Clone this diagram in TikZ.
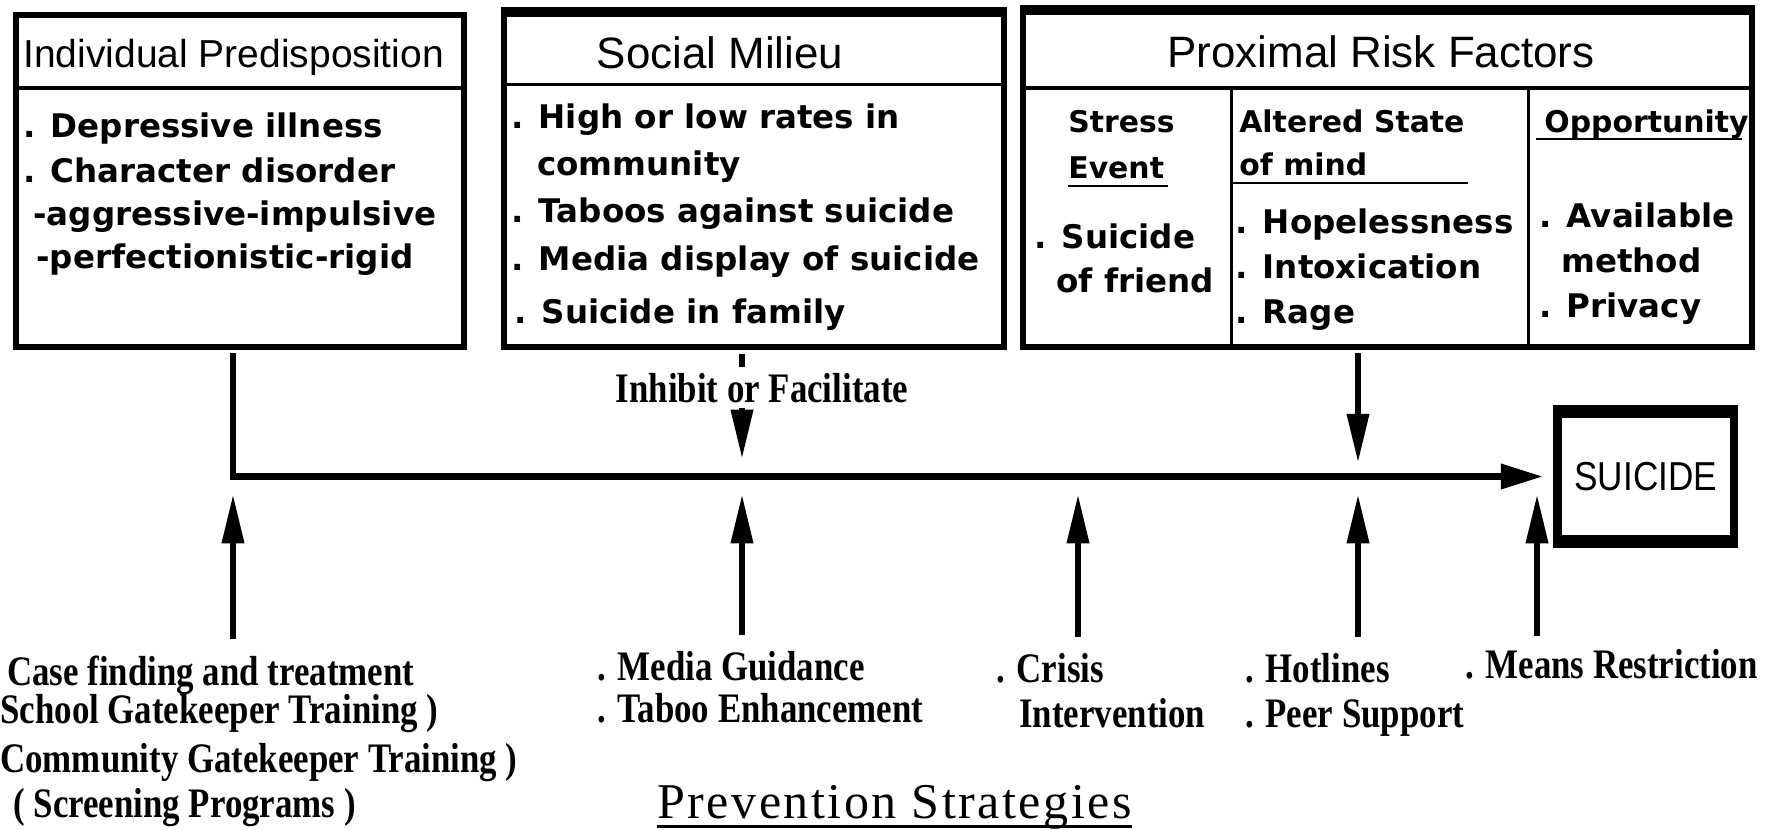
\documentclass[tikz,border=0pt]{standalone}
\usepackage{fontspec}
\setmainfont{DejaVu Sans}
\newfontfamily\headfont{Liberation Sans}
\newfontfamily\suicidefont[FakeStretch=0.87]{Liberation Sans}
\newfontfamily\stratfont[FakeStretch=0.83]{Liberation Serif}
\newfontfamily\prevfont[LetterSpace=5]{Liberation Serif}
\usetikzlibrary{arrows.meta,positioning}

\begin{document}
\begin{tikzpicture}[
  x=0.02cm, y=-0.02cm,
  box/.style={draw, line width=3.4pt, inner sep=0pt},
  rule/.style={line width=2.2pt},
  thinrule/.style={line width=1.7pt},
  flow/.style={line width=3.7pt, line join=miter},
  vert/.style={flow, -{Triangle[length=28pt, width=12pt]}},
  head/.style={font=\headfont\fontsize{25}{30}\selectfont, inner sep=0pt, anchor=base},
  item/.style={font=\bfseries\fontsize{18.5}{22}\selectfont, inner sep=0pt, anchor=base west},
  sub/.style={font=\bfseries\fontsize{17}{20}\selectfont, inner sep=0pt, anchor=base west},
  strat/.style={font=\stratfont\bfseries\fontsize{23.9}{28}\selectfont, inner sep=0pt, anchor=base west}
]
\useasboundingbox (0,0) rectangle (1767,829);

\node[box, minimum width=8.97cm, minimum height=6.65cm] (indiv) at (240.25,181.25) {};
\node[box, minimum width=10cm, minimum height=6.75cm] (social) at (754,178.75) {};
\node[box, minimum width=14.58cm, minimum height=6.78cm] (risk) at (1387.5,177.5) {};
\fill (social.north west) rectangle ([yshift=-0.2cm]social.north east);
\fill (risk.north west) rectangle ([yshift=-0.2cm]risk.north east);
\draw[rule] (indiv.west |- 0,88) -- (indiv.east |- 0,88);
\draw[rule] (social.west |- 0,84.5) -- (social.east |- 0,84.5);
\draw[rule] (risk.west |- 0,88) -- (risk.east |- 0,88);
\draw[thinrule] (1231,88) -- (1231,347);
\draw[thinrule] (1528,88) -- (1528,347);
\draw[thinrule] (1231,183) -- (1468,183);
\draw[thinrule] (1536,139) -- (1742,139);
\draw[thinrule] (1068,186) -- (1168,186);

\node[head, anchor=base west, font=\headfont\fontsize{22.2}{26}\selectfont] (indivhead) at (23,67) {Individual Predisposition};
\node[item] (depress) at (23,137) {. Depressive illness};
\node[item] (chardis) at (23,182) {. Character disorder};
\node[item] (aggr) at (33,225) {-aggressive-impulsive};
\node[item] (perf) at (36,268) {-perfectionistic-rigid};

\node[head] (socialhead) at (720,68) {Social Milieu};
\node[item] (rates) at (511,128) {. High or low rates in};
\node[item] (commun) at (537,175) {community};
\node[item] (taboos) at (511,222) {. Taboos against suicide};
\node[item] (mediadisp) at (511,270) {. Media display of suicide};
\node[item] (family) at (514,323) {. Suicide in family};

\node[head] (riskhead) at (1381,67) {Proximal Risk Factors};
\node[sub] (stress) at (1068,132) {Stress};
\node[sub] (event) at (1068,178) {Event};
\node[item] (friend1) at (1034,248) {. Suicide};
\node[item] (friend2) at (1056,292) {of friend};
\node[sub] (altered) at (1239,132) {Altered State};
\node[sub] (mind) at (1239,175) {of mind};
\node[item] (hopeless) at (1235,233) {. Hopelessness};
\node[item] (intox) at (1235,278) {. Intoxication};
\node[item] (rage) at (1235,323) {. Rage};
\node[sub] (opport) at (1544,132) {Opportunity};
\node[item] (avail) at (1539,227) {. Available};
\node[item] (method) at (1561,272) {method};
\node[item] (privacy) at (1539,317) {. Privacy};

\node[box, line width=5.1pt, minimum width=3.53cm, minimum height=2.7cm,
  font=\suicidefont\fontsize{23}{28}\selectfont] (suicide) at (1645.75,476.5) {SUICIDE};
\fill (suicide.north west) rectangle ([yshift=-0.26cm]suicide.north east);
\fill (suicide.south west) rectangle ([yshift=0.26cm]suicide.south east);

\coordinate (j1) at (233,476.5);
\coordinate (j2) at (742,476.5);
\coordinate (j3) at (1078,476.5);
\coordinate (j4) at (1358,476.5);
\coordinate (j5) at (1537,476.5);

\node[strat, anchor=base, inner sep=3pt] (inhibit) at (762,402) {Inhibit or Facilitate};

\node[strat] (casefind) at (7,685) {Case finding and treatment};
\node[strat] (school) at (0,723) {School Gatekeeper Training )};
\node[strat] (community) at (0,772) {Community Gatekeeper Training )};
\node[strat] (screening) at (13,817) {( Screening Programs )};
\node[strat] (media) at (597,680) {. Media Guidance};
\node[strat] (taboo) at (597,722) {. Taboo Enhancement};
\node[strat] (crisis) at (996,682) {. Crisis};
\node[strat] (interv) at (1019,727) {Intervention};
\node[strat] (hotlines) at (1245,682) {. Hotlines};
\node[strat] (peer) at (1245,727) {. Peer Support};
\node[strat] (means) at (1465,678) {. Means Restriction};

\draw[flow, -{Triangle[length=24pt, width=13.7pt]}, shorten <=1.7pt, shorten >=5.7pt]
  (indiv.south -| j1) -- (j1) -- (suicide.west);
\draw[flow, shorten <=2pt] (social.south -| j2) -- (inhibit.north -| j2);
\draw[vert, shorten >=10pt] (inhibit.south -| j2) -- (j2);
\draw[vert, shorten <=1.7pt, shorten >=7.7pt] (risk.south -| j4) -- (j4);
\draw[vert, shorten <=9pt, shorten >=10pt] (casefind.north -| j1) -- (j1);
\draw[vert, shorten <=9pt, shorten >=10pt] (media.north -| j2) -- (j2);
\draw[vert, shorten <=9pt, shorten >=10pt] (crisis.north -| j3) -- (j3);
\draw[vert, shorten <=9pt, shorten >=10pt] (hotlines.north -| j4) -- (j4);
\draw[vert, shorten <=7pt, shorten >=10pt] (means.north -| j5) -- (j5);

\node[font=\prevfont\fontsize{28.5}{34}\selectfont, inner sep=0pt, anchor=base] (prevhead) at (894.5,818) {Prevention Strategies};
\draw[thinrule] ([yshift=-0.16cm]prevhead.base west) -- ([yshift=-0.16cm]prevhead.base east);
\end{tikzpicture}
\end{document}
